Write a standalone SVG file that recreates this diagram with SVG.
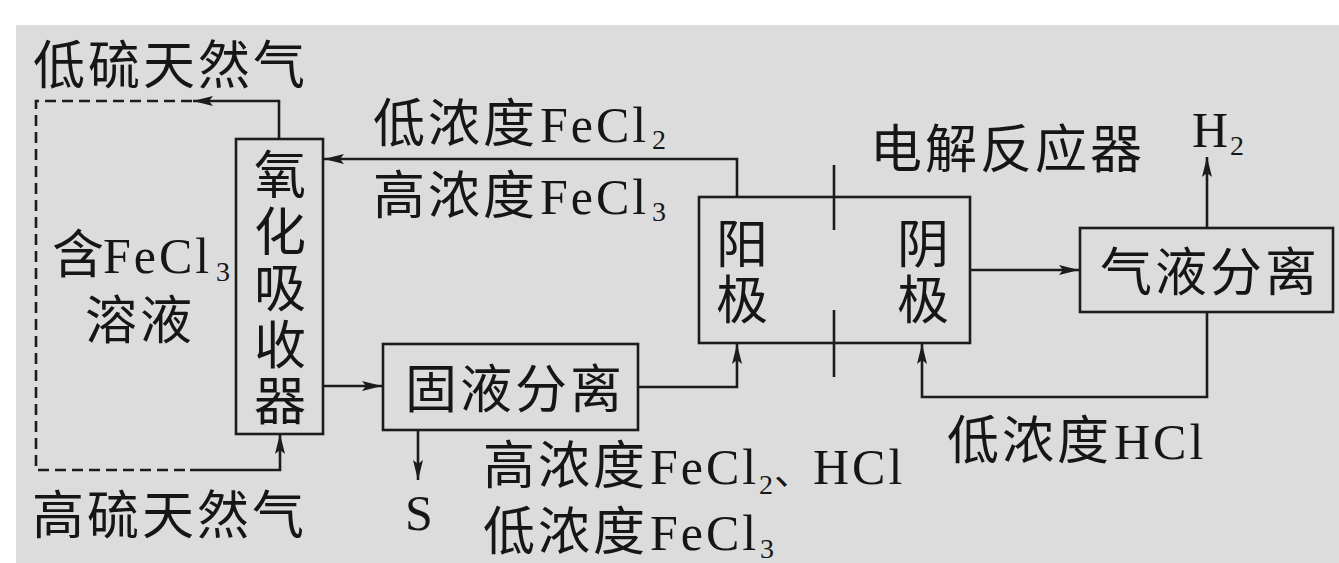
<svg xmlns="http://www.w3.org/2000/svg" width="1339" height="563" viewBox="0 0 1339 563">
<style>
text{font-family:"Liberation Serif","Noto Sans CJK SC",serif;fill:#161616;}
.cj{font-size:52px;letter-spacing:3px;}
.la{font-size:50px;letter-spacing:3px;}
.sub{font-size:28px;}
.v{font-size:52px;text-anchor:middle;}
.box{fill:none;stroke:#1c1c1c;stroke-width:2.6;}
.ln{fill:none;stroke:#1c1c1c;stroke-width:2.6;}
.dash{fill:none;stroke:#1c1c1c;stroke-width:2.6;stroke-dasharray:11 6;}
</style>
<defs>
<marker id="arr" viewBox="0 0 20 10" refX="20" refY="5" markerWidth="20" markerHeight="10" markerUnits="userSpaceOnUse" orient="auto">
<path d="M0,0 L20,5 L0,10 L4,5 z" fill="#1c1c1c"/>
</marker>
</defs>
<rect x="0" y="0" width="1339" height="563" fill="#ffffff"/>
<rect x="16" y="25" width="1323" height="538" fill="#dcdcdc"/>

<g id="connectors">
<path class="ln" d="M737,197 V159 H324" marker-end="url(#arr)"/>
<path class="ln" d="M279,139 V101 H193" marker-end="url(#arr)"/>
<path class="dash" d="M192,101 H36 V470 H190"/>
<path class="ln" d="M190,470 H280 V434" marker-end="url(#arr)"/>
<path class="ln" d="M323,386 H382" marker-end="url(#arr)"/>
<path class="ln" d="M638,387 H737 V344" marker-end="url(#arr)"/>
<path class="ln" d="M418,430 V480" marker-end="url(#arr)"/>
<path class="ln" d="M970,270 H1079" marker-end="url(#arr)"/>
<path class="ln" d="M1207,228 V157" marker-end="url(#arr)"/>
<path class="ln" d="M1207,312 V397 H922 V344" marker-end="url(#arr)"/>
</g>

<g id="label-low-sulfur">
<text class="cj" x="33" y="84">低硫天然气</text>
</g>
<g id="label-high-sulfur">
<text class="cj" x="32" y="534">高硫天然气</text>
</g>
<g id="label-fecl3-solution">
<text x="52" y="273"><tspan class="cj">含</tspan><tspan class="la" x="103" letter-spacing="2">FeCl</tspan><tspan class="sub" x="216" y="281" font-size="24">3</tspan></text>
<text class="cj" x="85" y="339">溶液</text>
</g>

<g id="oxidizer">
<rect class="box" x="236" y="139" width="87" height="295"/>
<text class="v" x="280" y="194">氧</text>
<text class="v" x="280" y="251">化</text>
<text class="v" x="280" y="307">吸</text>
<text class="v" x="280" y="364">收</text>
<text class="v" x="280" y="420">器</text>
</g>

<g id="label-anode-out">
<text x="373" y="142"><tspan class="cj">低浓度</tspan><tspan class="la" x="540">FeCl</tspan><tspan class="sub" x="652" y="149">2</tspan></text>
<text x="373" y="214"><tspan class="cj">高浓度</tspan><tspan class="la" x="540">FeCl</tspan><tspan class="sub" x="652" y="221">3</tspan></text>
</g>

<g id="solid-liquid">
<rect class="box" x="383" y="344" width="255" height="86"/>
<text class="cj" x="405" y="408">固液分离</text>
</g>
<g id="label-S">
<text class="la" x="405" y="530">S</text>
</g>
<g id="label-filtrate">
<text x="483" y="484"><tspan class="cj">高浓度</tspan><tspan class="la" x="650">FeCl</tspan><tspan class="sub" x="759" y="494">2</tspan></text>
<text x="774" y="484" font-size="38px">、</text>
<text class="la" x="813" y="484">HCl</text>
<text x="483" y="550"><tspan class="cj">低浓度</tspan><tspan class="la" x="650">FeCl</tspan><tspan class="sub" x="760" y="558">3</tspan></text>
</g>

<g id="reactor">
<rect class="box" x="699" y="197" width="271" height="146"/>
<line class="ln" x1="834" y1="165" x2="834" y2="230"/>
<line class="ln" x1="834" y1="310" x2="834" y2="377"/>
<text class="v" x="742" y="263">阳</text>
<text class="v" x="742" y="319">极</text>
<text class="v" x="923" y="263">阴</text>
<text class="v" x="923" y="319">极</text>
<text class="cj" x="870" y="168">电解反应器</text>
</g>

<g id="gas-liquid">
<rect class="box" x="1080" y="228" width="253" height="84"/>
<text class="cj" x="1100" y="291">气液分离</text>
</g>
<g id="label-H2">
<text x="1192" y="147"><tspan class="la">H</tspan><tspan class="sub" x="1230" y="155">2</tspan></text>
</g>
<g id="label-low-hcl">
<text x="947" y="459"><tspan class="cj">低浓度</tspan><tspan class="la" x="1114" letter-spacing="2">HCl</tspan></text>
</g>
</svg>
